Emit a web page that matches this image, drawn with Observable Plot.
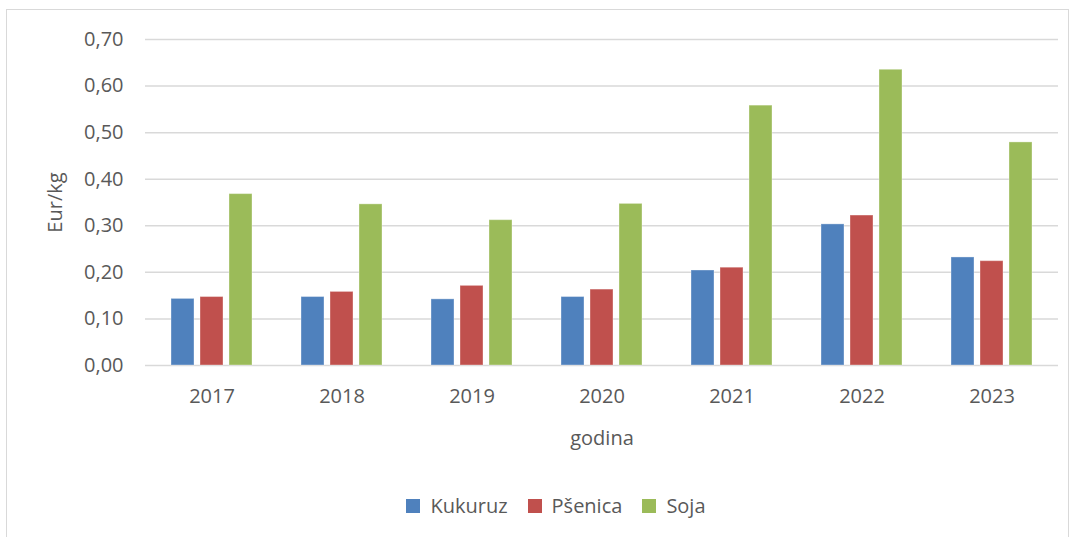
<!DOCTYPE html>
<html>
<head>
<meta charset="utf-8">
<script src="https://cdn.jsdelivr.net/npm/d3@7"></script>
<script src="https://cdn.jsdelivr.net/npm/@observablehq/plot@0.6"></script>
<style>
  html, body { margin: 0; padding: 0; background: #fff; }
  body { width: 1076px; height: 537px; position: relative; overflow: hidden; font-family: "Open Sans", sans-serif; }
  #frame { position: absolute; left: 6px; top: 9px; width: 1063px; height: 560px; border: 1px solid #d9d9d9; box-sizing: border-box; }
  .layer { position: absolute; left: 0; top: 0; }
  #legend { position: absolute; left: 28px; top: 489px; width: 1076px; display: flex; justify-content: center; }
</style>
</head>
<body>
<div id="frame"></div>
<div id="grid" class="layer"></div>
<div id="bars" class="layer"></div>
<div id="legend"></div>
<script>
const years = ["2017", "2018", "2019", "2020", "2021", "2022", "2023"];
const seriesNames = ["Kukuruz", "Pšenica", "Soja"];
const kukuruz = [0.143, 0.147, 0.142, 0.147, 0.204, 0.303, 0.232];
const psenica = [0.147, 0.158, 0.171, 0.163, 0.210, 0.322, 0.224];
const soja = [0.368, 0.346, 0.312, 0.347, 0.558, 0.635, 0.479];
const colors = ["#4f81bd", "#c0504d", "#9bbb59"];
const yTicks = [0, 0.1, 0.2, 0.3, 0.4, 0.5, 0.6, 0.7];

const seriesValues = [kukuruz, psenica, soja];
const data = [];
years.forEach((yr, i) => {
  seriesNames.forEach((s, j) => data.push({year: yr, series: s, value: seriesValues[j][i]}));
});

const fmt = d => d.toFixed(2).replace(".", ",");
const textColor = "#595959";
const common = {
  width: 1076,
  height: 480,
  marginLeft: 145,
  marginRight: 18,
  marginTop: 39,
  marginBottom: 115,
  style: {fontFamily: "Open Sans, sans-serif", fontSize: "20px", color: textColor, background: "transparent"}
};

// Background layer: gridlines and y axis spanning the whole frame
const gridPlot = Plot.plot({
  ...common,
  y: {domain: [0, 0.7]},
  marks: [
    Plot.ruleY(yTicks, {stroke: "#d9d9d9", strokeWidth: 1.5}),
    Plot.axisY(yTicks, {tickSize: 0, tickPadding: 22, tickFormat: fmt, fontSize: 20, fill: textColor, label: "Eur/kg", labelArrow: "none", labelAnchor: "center", labelOffset: 98})
  ]
});
document.getElementById("grid").appendChild(gridPlot);

// Foreground layer: grouped bars faceted by year
const barPlot = Plot.plot({
  ...common,
  y: {domain: [0, 0.7], axis: null},
  fx: {domain: years, paddingInner: 0.36, paddingOuter: 0.18},
  x: {domain: seriesNames, paddingInner: 0.2, paddingOuter: 0, axis: null},
  color: {domain: seriesNames, range: colors},
  marks: [
    Plot.barY(data, {fx: "year", x: "series", y: "value", fill: "series", stroke: "#ffffff", strokeOpacity: 0.35, strokeWidth: 1}),
    Plot.axisFx({anchor: "bottom", tickSize: 0, tickPadding: 23, fontSize: 20, fill: textColor, label: "godina", labelArrow: "none", labelAnchor: "center", labelOffset: 79})
  ]
});
document.getElementById("bars").appendChild(barPlot);

const legend = Plot.legend({
  color: {domain: seriesNames, range: colors},
  swatchSize: 14,
  style: {fontFamily: "Open Sans, sans-serif", fontSize: "20px", color: textColor}
});
document.getElementById("legend").appendChild(legend);
</script>
</body>
</html>
